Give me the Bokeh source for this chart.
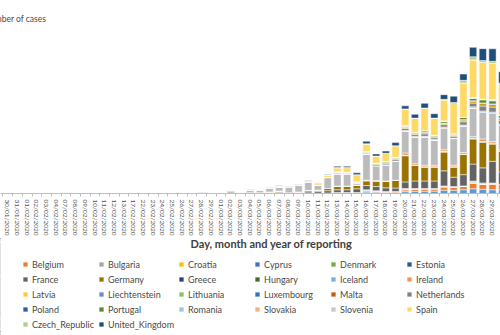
from bokeh.plotting import figure
from bokeh.layouts import column
from bokeh.models import Range1d, FixedTicker, Legend, LegendItem, Title, Label, ColumnDataSource
from bokeh.embed import file_html
from bokeh.resources import INLINE

# ---------------- data ----------------
dates = ["30/01/2020", "31/01/2020", "01/02/2020", "02/02/2020", "03/02/2020", "04/02/2020",
         "07/02/2020", "08/02/2020", "09/02/2020", "10/02/2020", "11/02/2020", "12/02/2020",
         "13/02/2020", "17/02/2020", "22/02/2020", "23/02/2020", "24/02/2020", "25/02/2020",
         "26/02/2020", "27/02/2020", "28/02/2020", "29/02/2020",
         "01/03/2020", "02/03/2020", "03/03/2020", "04/03/2020", "05/03/2020", "06/03/2020",
         "07/03/2020", "08/03/2020", "09/03/2020", "10/03/2020", "11/03/2020", "12/03/2020",
         "13/03/2020", "14/03/2020", "15/03/2020", "16/03/2020", "17/03/2020", "18/03/2020",
         "19/03/2020", "20/03/2020", "21/03/2020", "22/03/2020", "23/03/2020", "24/03/2020",
         "25/03/2020", "26/03/2020", "27/03/2020", "28/03/2020", "29/03/2020", "30/03/2020"]

# daily cases per country (first 22 values: 30/01-29/02, then 01/03-30/03)
Austria = [0, 0, 0, 0, 0, 0, 0, 0, 0, 0, 0, 0, 0, 0, 0, 0, 0, 2, 0, 0, 0, 0,
           0, 0, 0, 10, 0, 0, 0, 0, 0, 0, 0, 50, 60, 100, 100, 300, 260, 200, 200, 400, 460, 500, 500, 700, 700, 800, 1000, 900, 800, 800]
Belgium = [0, 0, 0, 0, 0, 1, 0, 0, 0, 0, 0, 0, 0, 0, 0, 0, 0, 0, 0, 0, 0, 0,
           0, 0, 0, 0, 0, 0, 40, 20, 40, 60, 70, 50, 80, 100, 100, 300, 240, 200, 240, 400, 500, 500, 500, 700, 700, 800, 1200, 1100, 1200, 1100]
Bulgaria = [0, 0, 0, 0, 0, 0, 0, 0, 0, 0, 0, 0, 0, 0, 0, 0, 0, 0, 0, 0, 0, 0,
            0, 0, 0, 0, 0, 0, 0, 0, 0, 0, 0, 0, 0, 0, 0, 0, 0, 0, 0, 0, 0, 0, 0, 0, 0, 0, 20, 0, 0, 0]
Croatia = [0, 0, 0, 0, 0, 0, 0, 0, 0, 0, 0, 0, 0, 0, 0, 0, 0, 1, 0, 0, 0, 0,
           0, 0, 0, 0, 0, 0, 0, 0, 0, 0, 0, 0, 0, 0, 0, 0, 0, 0, 0, 40, 0, 0, 0, 60, 0, 0, 70, 0, 70, 0]
Cyprus = [0, 0, 0, 0, 0, 0, 0, 0, 0, 0, 0, 0, 0, 0, 0, 0, 0, 0, 0, 0, 0, 0,
          0, 0, 0, 0, 0, 0, 0, 0, 0, 0, 0, 0, 0, 0, 0, 0, 0, 0, 0, 0, 0, 0, 0, 0, 0, 0, 20, 0, 0, 0]
Denmark = [0, 0, 0, 0, 0, 0, 0, 0, 0, 0, 0, 0, 0, 0, 0, 0, 0, 0, 0, 0, 0, 0,
           0, 0, 0, 0, 0, 0, 0, 0, 0, 0, 0, 0, 0, 0, 0, 100, 80, 0, 0, 140, 100, 60, 60, 60, 60, 0, 200, 140, 100, 0]
Estonia = [0, 0, 0, 0, 0, 0, 0, 0, 0, 0, 0, 0, 0, 0, 0, 0, 0, 0, 0, 0, 0, 0,
           0, 0, 0, 0, 0, 0, 0, 0, 0, 0, 0, 0, 0, 0, 0, 60, 0, 0, 0, 30, 0, 0, 0, 30, 0, 0, 50, 0, 0, 0]
Finland = [1, 0, 0, 0, 0, 0, 0, 0, 0, 0, 0, 0, 0, 0, 0, 0, 0, 0, 0, 0, 0, 0,
           0, 0, 0, 0, 0, 0, 0, 0, 0, 0, 0, 0, 50, 0, 0, 30, 0, 0, 0, 50, 0, 0, 0, 60, 0, 0, 80, 100, 60, 90]
France = [1, 0, 0, 0, 0, 0, 0, 5, 0, 0, 0, 0, 0, 0, 0, 0, 0, 0, 2, 12, 40, 40,
          30, 30, 60, 70, 90, 130, 200, 100, 190, 290, 370, 500, 600, 600, 800, 900, 900, 800, 720, 1400, 1600, 1600, 1600, 3200, 2000, 2400, 3600, 3200, 4600, 2600]
Germany = [4, 1, 1, 2, 2, 2, 3, 1, 0, 0, 2, 0, 0, 0, 0, 0, 0, 0, 4, 10, 60, 30,
           40, 30, 30, 100, 80, 200, 280, 50, 110, 300, 300, 470, 700, 800, 800, 1000, 1200, 1400, 1600, 5540, 3340, 3000, 3000, 4000, 2200, 4340, 5340, 5460, 3660, 4400]
Greece = [0, 0, 0, 0, 0, 0, 0, 0, 0, 0, 0, 0, 0, 0, 0, 0, 0, 0, 1, 2, 0, 0,
          0, 0, 0, 0, 0, 0, 0, 0, 0, 20, 0, 0, 50, 0, 0, 40, 0, 0, 0, 80, 0, 0, 0, 50, 0, 0, 70, 70, 80, 60]
Hungary = [0, 0, 0, 0, 0, 0, 0, 0, 0, 0, 0, 0, 0, 0, 0, 0, 0, 0, 0, 0, 0, 0,
           0, 0, 0, 0, 0, 0, 0, 0, 0, 0, 0, 0, 0, 0, 0, 0, 0, 0, 0, 0, 0, 0, 0, 30, 0, 0, 40, 0, 40, 0]
Iceland = [0, 0, 0, 0, 0, 0, 0, 0, 0, 0, 0, 0, 0, 0, 0, 0, 0, 0, 0, 0, 0, 0,
           0, 0, 0, 0, 0, 0, 0, 0, 0, 0, 0, 0, 30, 0, 0, 40, 0, 0, 0, 80, 0, 0, 0, 60, 0, 0, 90, 60, 70, 0]
Ireland = [0, 0, 0, 0, 0, 0, 0, 0, 0, 0, 0, 0, 0, 0, 0, 0, 0, 0, 0, 0, 0, 0,
           0, 0, 0, 0, 0, 0, 0, 0, 0, 0, 0, 0, 0, 0, 0, 60, 60, 60, 60, 460, 340, 340, 340, 340, 340, 340, 340, 540, 340, 300]
Italy = [0, 0, 2, 0, 0, 0, 1, 0, 0, 0, 0, 0, 0, 0, 17, 60, 60, 90, 100, 80, 300, 240,
         240, 560, 200, 470, 590, 770, 780, 1250, 1490, 1800, 980, 2310, 2600, 2500, 400, 5540, 3000, 3340, 4000, 4660, 5660, 6000, 5340, 4660, 5660, 5660, 6000, 5660, 6000, 5200]
Latvia = [0, 0, 0, 0, 0, 0, 0, 0, 0, 0, 0, 0, 0, 0, 0, 0, 0, 0, 0, 0, 0, 0,
          0, 0, 0, 0, 0, 0, 0, 0, 0, 0, 0, 0, 0, 0, 0, 0, 0, 0, 0, 0, 0, 0, 0, 0, 0, 0, 20, 0, 0, 0]
Liechtenstein = [0, 0, 0, 0, 0, 0, 0, 0, 0, 0, 0, 0, 0, 0, 0, 0, 0, 0, 0, 0, 0, 0,
                 0, 0, 0, 0, 0, 0, 0, 0, 0, 0, 0, 0, 0, 0, 0, 0, 0, 0, 0, 10, 0, 0, 0, 0, 0, 0, 0, 0, 0, 0]
Lithuania = [0, 0, 0, 0, 0, 0, 0, 0, 0, 0, 0, 0, 0, 0, 0, 0, 0, 0, 0, 0, 0, 0,
             0, 0, 0, 0, 0, 0, 0, 0, 0, 0, 0, 0, 0, 0, 0, 0, 0, 0, 0, 0, 0, 0, 0, 0, 0, 0, 30, 0, 0, 0]
Luxembourg = [0, 0, 0, 0, 0, 0, 0, 0, 0, 0, 0, 0, 0, 0, 0, 0, 0, 0, 0, 0, 0, 0,
              0, 0, 0, 0, 0, 0, 0, 0, 0, 0, 0, 0, 40, 40, 30, 46, 66, 80, 86, 100, 100, 134, 100, 134, 100, 180, 200, 266, 266, 200]
Malta = [0, 0, 0, 0, 0, 0, 0, 0, 0, 0, 0, 0, 0, 0, 0, 0, 0, 0, 0, 0, 0, 0,
         0, 0, 0, 0, 0, 0, 0, 0, 0, 0, 0, 0, 0, 0, 0, 0, 0, 0, 0, 0, 0, 0, 0, 0, 0, 0, 20, 0, 0, 0]
Netherlands = [0, 0, 0, 0, 0, 0, 0, 0, 0, 0, 0, 0, 0, 0, 0, 0, 0, 0, 0, 0, 0, 5,
               5, 0, 10, 20, 20, 40, 60, 30, 0, 50, 70, 60, 160, 160, 120, 184, 264, 320, 344, 400, 400, 536, 400, 536, 400, 720, 800, 1064, 1064, 800]
Norway = [0, 0, 0, 0, 0, 0, 0, 0, 0, 0, 0, 0, 0, 0, 0, 0, 0, 0, 0, 0, 0, 0,
          0, 0, 0, 20, 0, 30, 40, 0, 0, 0, 0, 0, 80, 80, 60, 92, 132, 160, 172, 200, 200, 268, 200, 268, 200, 360, 400, 532, 532, 400]
Poland = [0, 0, 0, 0, 0, 0, 0, 0, 0, 0, 0, 0, 0, 0, 0, 0, 0, 0, 0, 0, 0, 0,
          0, 0, 0, 0, 0, 0, 0, 0, 0, 0, 0, 0, 20, 20, 15, 23, 33, 40, 43, 50, 50, 67, 50, 67, 50, 90, 100, 133, 133, 100]
Portugal = [0, 0, 0, 0, 0, 0, 0, 0, 0, 0, 0, 0, 0, 0, 0, 0, 0, 0, 0, 0, 0, 0,
            0, 0, 0, 0, 0, 0, 0, 0, 0, 0, 0, 0, 100, 100, 75, 115, 165, 200, 215, 250, 250, 335, 250, 335, 250, 450, 500, 665, 665, 500]
Romania = [0, 0, 0, 0, 0, 0, 0, 0, 0, 0, 0, 0, 0, 0, 0, 0, 0, 0, 0, 0, 0, 0,
           0, 0, 0, 0, 0, 0, 0, 0, 0, 0, 0, 0, 0, 0, 0, 40, 0, 0, 0, 60, 0, 0, 0, 90, 0, 0, 100, 120, 160, 100]
Slovakia = [0, 0, 0, 0, 0, 0, 0, 0, 0, 0, 0, 0, 0, 0, 0, 0, 0, 0, 0, 0, 0, 0,
            0, 0, 0, 0, 0, 0, 0, 0, 0, 0, 0, 0, 0, 0, 0, 0, 0, 0, 0, 0, 0, 0, 0, 0, 0, 0, 30, 0, 40, 0]
Slovenia = [0, 0, 0, 0, 0, 0, 0, 0, 0, 0, 0, 0, 0, 0, 0, 0, 0, 0, 0, 0, 0, 0,
            0, 0, 0, 0, 0, 0, 0, 0, 0, 0, 0, 0, 40, 0, 0, 40, 0, 0, 0, 40, 0, 0, 0, 40, 0, 0, 50, 0, 50, 0]
Spain = [0, 1, 0, 0, 0, 0, 0, 0, 0, 0, 0, 0, 0, 0, 0, 0, 0, 1, 3, 4, 20, 15,
         15, 30, 30, 80, 50, 80, 110, 60, 100, 300, 380, 500, 860, 1000, 1500, 1600, 1540, 1740, 2460, 3460, 3000, 4800, 3660, 4460, 6660, 7340, 8000, 7800, 7660, 6500]
Sweden = [0, 1, 0, 0, 0, 0, 0, 0, 0, 0, 0, 0, 0, 0, 0, 0, 0, 0, 0, 0, 0, 0,
          0, 0, 0, 20, 0, 20, 60, 0, 0, 0, 0, 0, 0, 0, 0, 0, 0, 0, 0, 0, 0, 0, 0, 0, 0, 0, 0, 0, 0, 0]
Czech_Republic = [0, 0, 0, 0, 0, 0, 0, 0, 0, 0, 0, 0, 0, 0, 0, 0, 0, 0, 0, 0, 0, 0,
                  0, 0, 0, 0, 0, 0, 0, 0, 0, 0, 0, 0, 30, 0, 0, 50, 0, 0, 0, 100, 0, 0, 0, 100, 0, 540, 660, 400, 460, 300]
United_Kingdom = [0, 2, 0, 0, 0, 0, 1, 0, 0, 4, 0, 0, 1, 0, 0, 0, 0, 0, 0, 0, 5, 5,
                  10, 10, 10, 40, 20, 50, 50, 20, 60, 50, 50, 80, 300, 300, 400, 540, 460, 460, 660, 660, 800, 1000, 940, 1000, 1340, 1340, 2000, 2540, 2660, 2400]

series = {
    "Austria": Austria, "Belgium": Belgium, "Bulgaria": Bulgaria, "Croatia": Croatia,
    "Cyprus": Cyprus, "Denmark": Denmark, "Estonia": Estonia, "Finland": Finland,
    "France": France, "Germany": Germany, "Greece": Greece, "Hungary": Hungary,
    "Iceland": Iceland, "Ireland": Ireland, "Italy": Italy, "Latvia": Latvia,
    "Liechtenstein": Liechtenstein, "Lithuania": Lithuania, "Luxembourg": Luxembourg,
    "Malta": Malta, "Netherlands": Netherlands, "Norway": Norway, "Poland": Poland,
    "Portugal": Portugal, "Romania": Romania, "Slovakia": Slovakia, "Slovenia": Slovenia,
    "Spain": Spain, "Sweden": Sweden, "Czech_Republic": Czech_Republic,
    "United_Kingdom": United_Kingdom,
}

colors = {
    "Austria": "#5B9BD5", "Belgium": "#ED7D31", "Bulgaria": "#A5A5A5", "Croatia": "#FFC000",
    "Cyprus": "#4472C4", "Denmark": "#70AD47", "Estonia": "#255E91", "Finland": "#9E480E",
    "France": "#636363", "Germany": "#997300", "Greece": "#264478", "Hungary": "#43682B",
    "Iceland": "#7CAFDD", "Ireland": "#F1975A", "Italy": "#BBBBBB", "Latvia": "#FFCD33",
    "Liechtenstein": "#698ED0", "Lithuania": "#8CC168", "Luxembourg": "#2E75B6",
    "Malta": "#C55A11", "Netherlands": "#848484", "Norway": "#CC9A00", "Poland": "#335AA1",
    "Portugal": "#5A8A39", "Romania": "#9DC3E6", "Slovakia": "#F4B183", "Slovenia": "#C9C9C9",
    "Spain": "#FFD966", "Sweden": "#8FAADC", "Czech_Republic": "#A9D18E",
    "United_Kingdom": "#1F4E79",
}

legend_names = ["Belgium", "Bulgaria", "Croatia", "Cyprus", "Denmark", "Estonia",
                "France", "Germany", "Greece", "Hungary", "Iceland", "Ireland",
                "Latvia", "Liechtenstein", "Lithuania", "Luxembourg", "Malta", "Netherlands",
                "Poland", "Portugal", "Romania", "Slovakia", "Slovenia", "Spain",
                "Czech_Republic", "United_Kingdom"]

for name, vals in series.items():
    if len(vals) != len(dates):
        raise ValueError(f"{name}: {len(vals)} values")

countries = list(series.keys())

# ---------------- main chart ----------------
PX = 9.694            # pixels per category
X0 = -7.3 / PX        # first category centre 7 px from the left edge
YMAX = 34600

src = ColumnDataSource(dict(x=list(range(len(dates))), **series))

p = figure(width=500, height=238, output_backend="svg", toolbar_location=None,
           x_range=Range1d(X0, X0 + 500 / PX), y_range=Range1d(0, YMAX),
           y_axis_location=None, min_border_left=0, min_border_right=0,
           min_border_top=30, min_border_bottom=38)
p.outline_line_color = None
p.xgrid.visible = False
p.ygrid.visible = False

p.title = Title(text="Number of cases", align="left", offset=-17, standoff=13,
                text_font="Lato", text_font_size="8.5px", text_font_style="normal",
                text_color="#4A4A4A")

p.vbar_stack(countries, x="x", width=0.75, source=src,
             color=[colors[c] for c in countries],
             line_color="white", line_width=0.5)

ax = p.xaxis[0]
ax.ticker = FixedTicker(ticks=list(range(len(dates))),
                        minor_ticks=[i + 0.5 for i in range(-1, len(dates))])
ax.major_label_overrides = {i: d for i, d in enumerate(dates)}
ax.major_label_orientation = "vertical"
ax.major_label_text_font = "Lato"
ax.major_label_text_font_size = "6.5px"
ax.major_label_text_color = "#505050"
ax.major_label_standoff = 3
ax.major_tick_in = 0
ax.major_tick_out = 0
ax.minor_tick_in = 0
ax.minor_tick_out = 3
ax.minor_tick_line_color = "#BFBFBF"
ax.axis_line_color = "#BFBFBF"

# ---------------- axis title + legend strip ----------------
# the stacked bars are repeated here only to give the legend its swatches;
# this strip's x range lies far away from them, so none of them is visible.
pl = figure(width=500, height=97, output_backend="svg", toolbar_location=None,
            x_range=Range1d(1000, 1500), y_range=Range1d(0, 97),
            x_axis_location=None, y_axis_location=None,
            min_border_left=0, min_border_right=0, min_border_top=0, min_border_bottom=0)
pl.outline_line_color = None
pl.xgrid.visible = False
pl.ygrid.visible = False

pl.add_layout(Label(x=1000 + 271, y=92, text="Day, month and year of reporting",
                    text_font="Lato", text_font_size="11px", text_font_style="bold",
                    text_color="#404040", text_align="center", text_baseline="middle"))

legend_rends = pl.vbar_stack(countries, x="x", width=0.75, source=src,
                             color=[colors[c] for c in countries],
                             line_color="white", line_width=0.5)
lmap = dict(zip(countries, legend_rends))

legend = Legend(items=[LegendItem(label=n, renderers=[lmap[n]]) for n in legend_names],
                location=(22, 5.5), orientation="horizontal", ncols=6,
                glyph_width=6, glyph_height=6, label_standoff=4, label_width=62,
                label_height=11, spacing=4, padding=0, margin=0,
                label_text_font="Lato", label_text_font_size="9px",
                label_text_color="#4A4A4A", border_line_color=None,
                background_fill_alpha=0)
pl.add_layout(legend, "center")

open("out.html", "w").write(file_html(column(p, pl, spacing=0), INLINE))
